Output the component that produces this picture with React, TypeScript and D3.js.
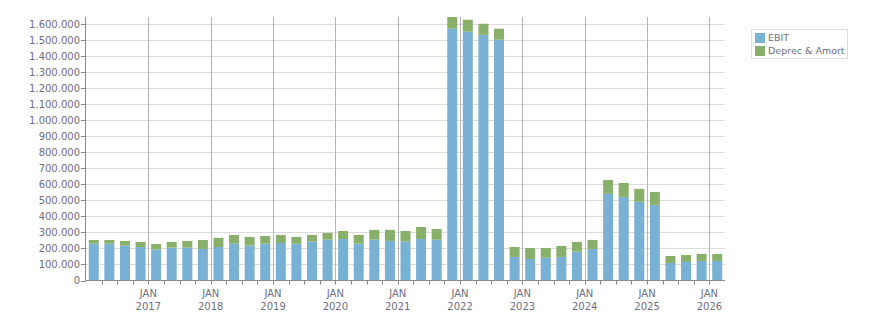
import React, { useRef, useEffect } from 'react';
import * as d3 from 'd3';

// quarterly values, 2016 Q1 .. 2026 Q1
const quarters = [
  "2016Q1", "2016Q2", "2016Q3", "2016Q4",
  "2017Q1", "2017Q2", "2017Q3", "2017Q4",
  "2018Q1", "2018Q2", "2018Q3", "2018Q4",
  "2019Q1", "2019Q2", "2019Q3", "2019Q4",
  "2020Q1", "2020Q2", "2020Q3", "2020Q4",
  "2021Q1", "2021Q2", "2021Q3", "2021Q4",
  "2022Q1", "2022Q2", "2022Q3", "2022Q4",
  "2023Q1", "2023Q2", "2023Q3", "2023Q4",
  "2024Q1", "2024Q2", "2024Q3", "2024Q4",
  "2025Q1", "2025Q2", "2025Q3", "2025Q4",
  "2026Q1"
];

const ebit = [
  230000, 230000, 218000, 209000,
  193000, 205000, 205000, 197000,
  209000, 230000, 218000, 230000,
  234000, 230000, 243000, 255000,
  259000, 230000, 255000, 247000,
  243000, 259000, 255000, 1572000,
  1553000, 1534000, 1503000, 147000,
  134000, 142000, 147000, 180000,
  197000, 541000, 522000, 491000,
  472000, 109000, 116000, 122000,
  122000
];

const deprec = [
  23000, 23000, 29000, 32000,
  35000, 36000, 42000, 56000,
  57000, 54000, 54000, 48000,
  50000, 42000, 41000, 42000,
  50000, 54000, 61000, 69000,
  66000, 75000, 67000, 73000,
  75000, 69000, 69000, 62000,
  69000, 61000, 69000, 61000,
  56000, 87000, 87000, 81000,
  81000, 44000, 43000, 44000,
  44000
];

const seriesNames = ["EBIT", "Deprec & Amort"];
const seriesColors = ["#79b1d4", "#89b06a"];

function App() {
  const svgRef = useRef(null);

  useEffect(() => {
    const svg = d3.select(svgRef.current);
    svg.selectAll("*").remove();

    const width = 876;
    const height = 313;
    const margin = { top: 17, right: 151, bottom: 32.5, left: 86 };
    const font = "DejaVu Sans";
    const textColor = "#6e6e80";

    const x = d3.scaleLinear()
      .domain([0, quarters.length])
      .range([margin.left, width - margin.right]);

    const totals = ebit.map((v, i) => v + deprec[i]);
    const y = d3.scaleLinear()
      .domain([0, d3.max(totals)])
      .range([height - margin.bottom, margin.top]);

    const locale = d3.formatLocale({ decimal: ",", thousands: ".", grouping: [3], currency: ["", ""] });
    const fmt = locale.format(",.0f");

    // horizontal grid
    const yTicks = d3.range(0, 1600001, 100000);
    svg.append("g")
      .selectAll("line")
      .data(yTicks.slice(1))
      .enter().append("line")
      .attr("x1", margin.left)
      .attr("x2", width - margin.right)
      .attr("y1", d => Math.round(y(d)) + 0.5)
      .attr("y2", d => Math.round(y(d)) + 0.5)
      .attr("stroke", "#dcdcdc");

    // vertical year grid
    const yearIdx = d3.range(4, quarters.length, 4);
    svg.append("g")
      .selectAll("line")
      .data(yearIdx)
      .enter().append("line")
      .attr("x1", d => Math.round(x(d)) + 0.5)
      .attr("x2", d => Math.round(x(d)) + 0.5)
      .attr("y1", margin.top)
      .attr("y2", height - margin.bottom)
      .attr("stroke", "#b4b4b4");

    // stacked bars
    const stackData = quarters.map((q, i) => ({ q, i, ebit: ebit[i], deprec: deprec[i] }));
    const stack = d3.stack().keys(["ebit", "deprec"])(stackData);
    const barW = 10;

    svg.append("g")
      .selectAll("g")
      .data(stack)
      .enter().append("g")
      .attr("fill", (d, k) => seriesColors[k])
      .selectAll("rect")
      .data(d => d)
      .enter().append("rect")
      .attr("x", d => (x(d.data.i) + x(d.data.i + 1)) / 2 - barW / 2)
      .attr("width", barW)
      .attr("y", d => y(d[1]))
      .attr("height", d => y(d[0]) - y(d[1]));

    // axes
    const axisColor = "#8a8a8a";
    svg.append("line")
      .attr("x1", margin.left - 0.5)
      .attr("x2", margin.left - 0.5)
      .attr("y1", margin.top)
      .attr("y2", height - margin.bottom)
      .attr("stroke", axisColor);
    svg.append("line")
      .attr("x1", margin.left - 0.5)
      .attr("x2", width - margin.right)
      .attr("y1", height - margin.bottom)
      .attr("y2", height - margin.bottom)
      .attr("stroke", axisColor);

    const yAxis = svg.append("g");
    yAxis.selectAll("line")
      .data(yTicks)
      .enter().append("line")
      .attr("x1", margin.left - 5)
      .attr("x2", margin.left)
      .attr("y1", d => Math.round(y(d)) + 0.5)
      .attr("y2", d => Math.round(y(d)) + 0.5)
      .attr("stroke", axisColor);
    yAxis.selectAll("text")
      .data(yTicks)
      .enter().append("text")
      .attr("x", margin.left - 6)
      .attr("y", d => y(d))
      .attr("dy", "0.35em")
      .attr("text-anchor", "end")
      .attr("font-family", font)
      .attr("font-size", 10)
      .attr("fill", textColor)
      .text(d => fmt(d));

    // x ticks at quarter boundaries
    const xAxis = svg.append("g");
    xAxis.selectAll("line")
      .data(d3.range(1, quarters.length))
      .enter().append("line")
      .attr("x1", d => Math.round(x(d)) + 0.5)
      .attr("x2", d => Math.round(x(d)) + 0.5)
      .attr("y1", height - margin.bottom)
      .attr("y2", height - margin.bottom + 4)
      .attr("stroke", axisColor);

    const labels = xAxis.selectAll("text")
      .data(yearIdx)
      .enter().append("text")
      .attr("x", d => x(d))
      .attr("text-anchor", "middle")
      .attr("font-family", font)
      .attr("font-size", 10)
      .attr("fill", textColor);
    labels.append("tspan")
      .attr("x", d => x(d))
      .attr("y", height - margin.bottom + 16)
      .text("JAN");
    labels.append("tspan")
      .attr("x", d => x(d))
      .attr("y", height - margin.bottom + 29)
      .text(d => quarters[d].slice(0, 4));

    // legend
    const legend = svg.append("g");
    legend.append("rect")
      .attr("x", 751.5)
      .attr("y", 29.5)
      .attr("width", 96)
      .attr("height", 29)
      .attr("fill", "white")
      .attr("stroke", "#dddddd");
    const items = legend.selectAll("g")
      .data(seriesNames)
      .enter().append("g")
      .attr("transform", (d, i) => `translate(755,${33 + 13 * i})`);
    items.append("rect")
      .attr("width", 10)
      .attr("height", 10)
      .attr("fill", (d, i) => seriesColors[i]);
    items.append("text")
      .attr("x", 13)
      .attr("y", 5)
      .attr("dy", "0.35em")
      .attr("font-family", font)
      .attr("font-size", 9.5)
      .attr("fill", textColor)
      .text(d => d);
  }, []);

  return (
    <svg
      ref={svgRef}
      width={876}
      height={313}
      style={{ position: "absolute", left: 0, top: 0, background: "white" }}
    />
  );
}

export default App;
